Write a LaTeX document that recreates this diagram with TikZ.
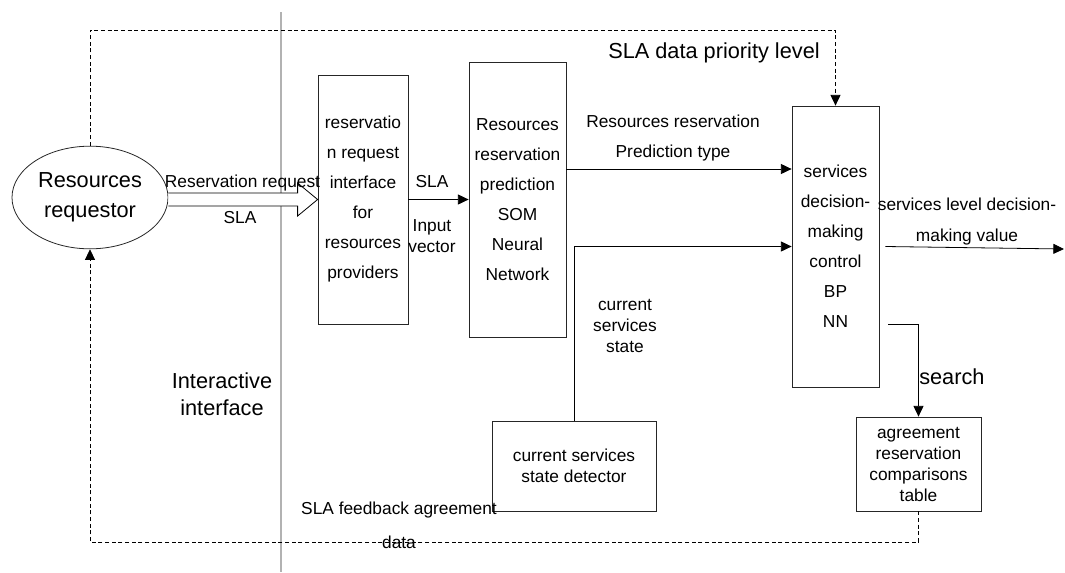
\documentclass[tikz,border=0pt]{standalone}
\usepackage{fontspec}
\setmainfont{Liberation Sans}
\usetikzlibrary{arrows.meta,calc,shapes.geometric}
\begin{document}
\begin{tikzpicture}[x=0.75pt,y=-0.75pt,
  sm/.style={font=\fontsize{13}{22.5}\selectfont},
  smt/.style={font=\fontsize{13}{15.75}\selectfont},
  lg/.style={font=\fontsize{16.3}{20.25}\selectfont},
  box/.style={draw=black!85, line width=0.6pt, inner sep=0pt, align=center, sm},
  arr/.style={-{Triangle[length=8pt,width=7.5pt]}},
  ln/.style={line width=0.6pt, draw=black},
  dsh/.style={ln, dash pattern=on 3pt off 2pt},
  lbl/.style={inner sep=0pt, align=center, sm}
]
\useasboundingbox (0,0) rectangle (1065,572);

% separator
\draw[gray!60, line width=0.8pt] (281,12) -- (281,572);

% nodes
\node[ellipse, draw=black!85, line width=0.6pt, font=\fontsize{16.3}{22.5}\selectfont, minimum width=117pt, minimum height=77pt, inner sep=0pt, align=center] (req) at (90,197.5) {Resources\\requestor};
\node[box, minimum width=67.5pt, minimum height=186.75pt] (res) at (363,199.5) {reservatio\\n request\\interface\\for\\resources\\providers};
\node[box, minimum width=72.75pt, minimum height=206.25pt] (som) at (517.5,199.5) {Resources\\reservation\\prediction\\SOM\\Neural\\Network};
\node[box, minimum width=65.25pt, minimum height=210.75pt] (svc) at (835.5,246.5) {services\\decision-\\making\\control\\BP\\NN};
\node[box, smt, minimum width=123pt, minimum height=67.5pt] (det) at (574,466) {current services\\state detector};
\node[box, smt, minimum width=93.75pt, minimum height=70.5pt] (tab) at (918.5,464) {agreement\\reservation\\comparisons\\table};

% helper coordinates
\coordinate (ytop) at (0,30);
\coordinate (ybot) at (0,542);
\coordinate (y169) at (0,169);
\coordinate (y324) at (0,324);
\coordinate (outend) at (1064,249);

% hollow arrow
\draw[ln, fill=white] ($(req.east |- res.west)+(0,4.875pt)$) -- ($(res.west)+(-15pt,4.875pt)$) -- ($(res.west)+(-15pt,12.4pt)$) -- (res.west) -- ($(res.west)+(-15pt,-12.4pt)$) -- ($(res.west)+(-15pt,-4.875pt)$) -- ($(req.east |- res.west)+(0,-4.875pt)$);
\node[lbl] (l1) at (242.5,183) {Reservation request};
\node[lbl] (l2) at (240,218) {SLA};

% res -> som
\draw[ln, arr] (res.east) -- (som.west);
\node[lbl] (l3) at (432,182) {SLA};
\node[lbl, smt] (l4) at (432,236.5) {Input\\vector};

% som -> svc
\draw[ln, arr] (som.east |- y169) -- (svc.west |- y169);
\node[lbl] (l5) at (673,138) {Resources reservation\\Prediction type};

% det -> svc
\draw[ln, arr] (det.north) |- (svc.west);
\node[lbl, smt] (l6) at (625,326) {current\\services\\state};

% output
\draw[ln, arr] ($(svc.east)+(4.5pt,0)$) -- (outend);
\node[lbl, font=\fontsize{13}{23.25}\selectfont] (l7) at (967,221.5) {services level decision-\\making value};

% search
\draw[ln, arr] ($(svc.east |- y324)+(6.75pt,0)$) -| (tab.north);
\node[lbl, lg, anchor=west] (l8) at (919,377) {search};

% dashed top
\draw[dsh, arr] (req.north) -- (req.north |- ytop) -- (svc.north |- ytop) -- (svc.north);
\node[lbl, lg] (l9) at (714,53) {SLA data priority level};

% dashed bottom
\draw[dsh, arr] (tab.south) -- (tab.south |- ybot) -- (req.south |- ybot) -- (req.south);
\node[lbl] (l10) at (399,510) {SLA feedback agreement};
\node[lbl] (l11) at (399,542) {data};

% interactive interface
\node[lbl, lg] (l12) at (222,394) {Interactive\\interface};
\end{tikzpicture}
\end{document}
